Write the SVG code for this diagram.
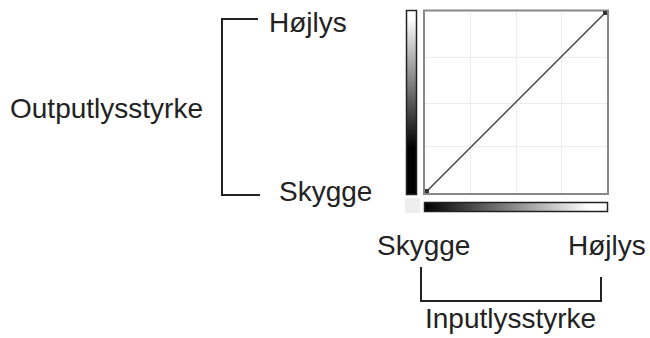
<svg xmlns="http://www.w3.org/2000/svg" width="650" height="338" viewBox="0 0 650 338">
<defs>
<linearGradient id="gv" x1="0" y1="0" x2="0" y2="1">
<stop offset="0.04" stop-color="#ffffff"/>
<stop offset="0.75" stop-color="#000000"/>
<stop offset="1" stop-color="#000000"/>
</linearGradient>
<linearGradient id="gh" x1="0" y1="0" x2="1" y2="0">
<stop offset="0" stop-color="#000000"/>
<stop offset="0.9" stop-color="#ffffff"/>
<stop offset="1" stop-color="#ffffff"/>
</linearGradient>
<style>
.t{font-family:"Liberation Sans",Arial,sans-serif;font-size:28px;fill:#222}
.br{fill:none;stroke:#222;stroke-width:2}
.grid{stroke:#ececec;stroke-width:1}
</style>
</defs>
<rect width="650" height="338" fill="#fff"/>
<g id="chart">
<rect x="406.5" y="10.5" width="10" height="184" fill="url(#gv)" stroke="#222" stroke-width="1.5"/>
<rect x="424" y="10.5" width="184" height="183.5" fill="#fff" stroke="#888" stroke-width="2"/>
<line class="grid" x1="470.5" y1="12" x2="470.5" y2="193"/>
<line class="grid" x1="516.5" y1="12" x2="516.5" y2="193"/>
<line class="grid" x1="561.5" y1="12" x2="561.5" y2="193"/>
<line class="grid" x1="425" y1="57.5" x2="607" y2="57.5"/>
<line class="grid" x1="425" y1="103.5" x2="607" y2="103.5"/>
<line class="grid" x1="425" y1="146.5" x2="607" y2="146.5"/>
<line x1="426" y1="192" x2="606" y2="12" stroke="#444" stroke-width="1.5"/>
<rect x="425" y="189" width="4" height="4" fill="#333"/>
<rect x="603" y="11" width="4" height="4" fill="#333"/>
<rect x="405" y="198" width="15" height="15" fill="#eeeeee"/>
<rect x="424.5" y="202.5" width="183" height="9" fill="url(#gh)" stroke="#222" stroke-width="1.5"/>
</g>
<g id="output-label"><text class="t" x="10" y="118">Outputlysstyrke</text></g>
<g id="output-high"><text class="t" x="269" y="32">Højlys</text></g>
<g id="output-low"><text class="t" x="279" y="201">Skygge</text></g>
<g id="input-low"><text class="t" x="377" y="255">Skygge</text></g>
<g id="input-high"><text class="t" x="568" y="255">Højlys</text></g>
<g id="input-label"><text class="t" x="425" y="328">Inputlysstyrke</text></g>
<g id="connectors">
<polyline class="br" points="258,19 222,19 222,195 260,195"/>
<polyline class="br" points="421,267 421,301 601,301 601,277"/>
</g>
</svg>
